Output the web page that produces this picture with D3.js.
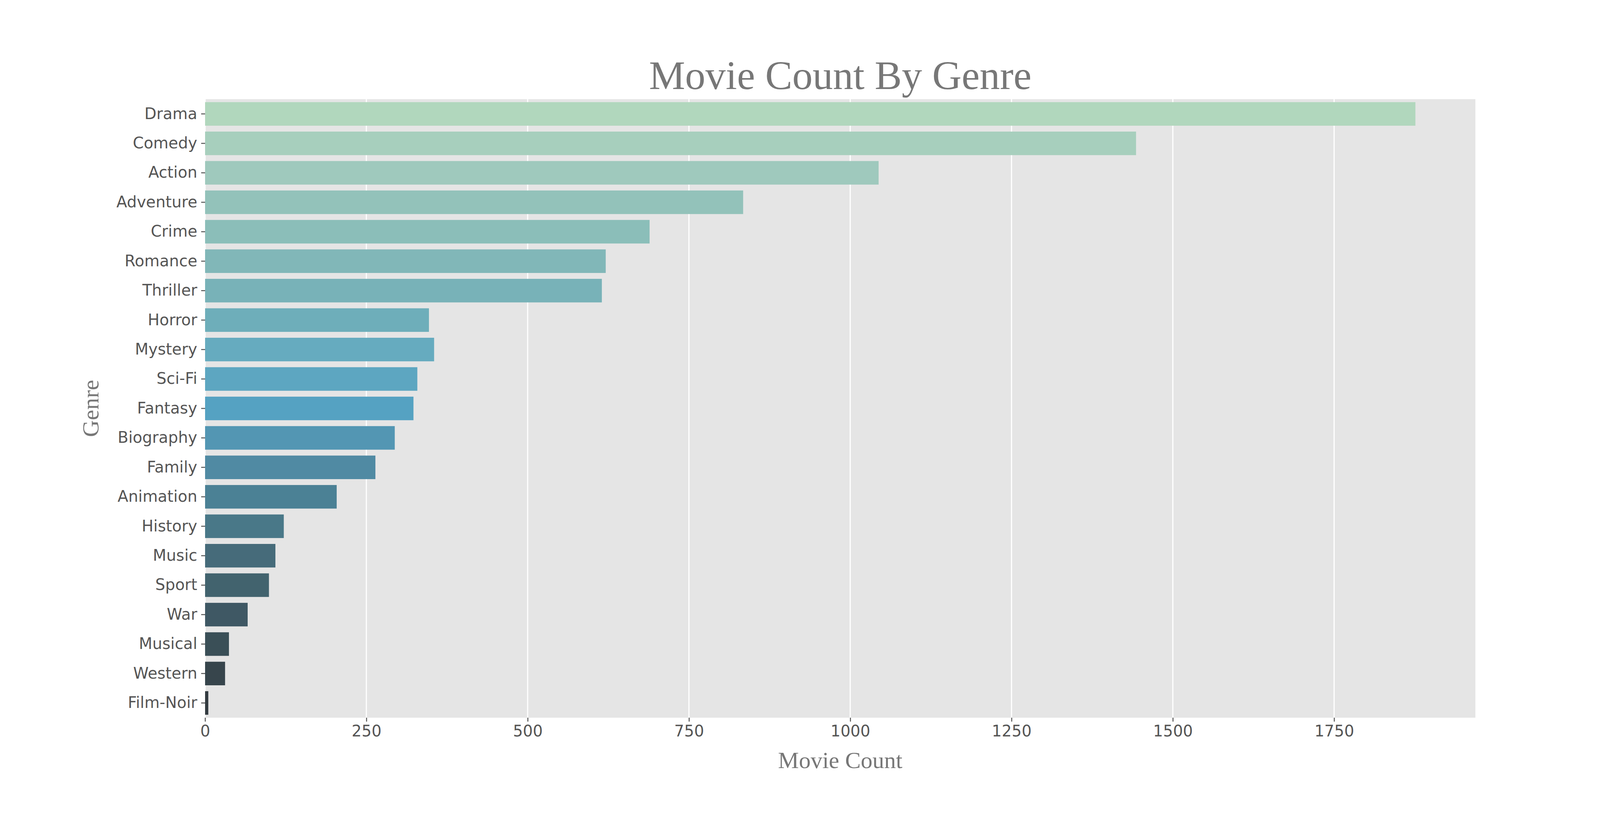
<!DOCTYPE html>
<html><head><meta charset="utf-8">
<script src="https://cdn.jsdelivr.net/npm/d3@7"></script>
<style>body{margin:0;background:#fff}</style>
</head><body>
<script>
const genres = ["Drama","Comedy","Action","Adventure","Crime","Romance","Thriller","Horror","Mystery","Sci-Fi","Fantasy","Biography","Family","Animation","History","Music","Sport","War","Musical","Western","Film-Noir"];
const counts = [1876,1443,1044,834,689,621,615,347,355,329,323,294,264,204,122,109,99,66,37,31,5];
const xTicks = [0,250,500,750,1000,1250,1500,1750];
const palette = ["#b1d7bd","#a7cfbd","#9fc9bd","#93c2ba","#8bbeb9","#81b7b8","#78b2b8","#6eaeba","#66abbf","#5da6c1","#55a2c2","#5396b3","#508aa3","#4b8195","#497888","#466b7a","#42636e","#3f5864","#3a4f57","#37454c","#333b40"];

const W=4200,H=2100, L=525,R=3777,T=254,B=1838;
const svg=d3.select("body").append("svg").attr("width",W).attr("height",H);
const x=d3.scaleLinear().domain([0,1969]).range([L,R]);
const y=d3.scaleBand().domain(genres).range([T,B]).paddingInner(0.2).paddingOuter(0.1);
svg.append("rect").attr("x",L).attr("y",T).attr("width",R-L).attr("height",B-T).attr("fill","#e5e5e5");
svg.append("g").selectAll("line").data(xTicks).join("line")
  .attr("x1",d=>x(d)).attr("x2",d=>x(d)).attr("y1",T).attr("y2",B)
  .attr("stroke","#fff").attr("stroke-width",3);
svg.append("g").selectAll("rect").data(genres).join("rect")
  .attr("x",x(0)).attr("y",d=>y(d)).attr("height",y.bandwidth())
  .attr("width",(d,i)=>x(counts[i])-x(0)).attr("fill",(d,i)=>palette[i]);
const font="DejaVu Sans";
const xa=svg.append("g").attr("transform",`translate(0,${B})`)
  .call(d3.axisBottom(x).tickValues(xTicks).tickSize(10).tickPadding(10).tickFormat(d3.format("d")));
const ya=svg.append("g").attr("transform",`translate(${L},0)`)
  .call(d3.axisLeft(y).tickSize(10).tickPadding(10));
[xa,ya].forEach(a=>{a.select(".domain").remove();
  a.selectAll("line").attr("stroke","#555").attr("stroke-width",2.5);
  a.selectAll("text").attr("fill","#555").style("font-family",font).style("font-size","40px");});
svg.append("text").attr("x",(L+R)/2).attr("y",228).attr("text-anchor","middle")
  .style("font-family","Liberation Serif").style("font-size","104px").attr("fill","#777").text("Movie Count By Genre");
svg.append("text").attr("x",(L+R)/2).attr("y",1967).attr("text-anchor","middle")
  .style("font-family","Liberation Serif").style("font-size","60px").attr("fill","#777").text("Movie Count");
svg.append("text").attr("transform",`translate(252,${(T+B)/2}) rotate(-90)`).attr("text-anchor","middle")
  .style("font-family","Liberation Serif").style("font-size","60px").attr("fill","#777").text("Genre");
</script></body></html>
